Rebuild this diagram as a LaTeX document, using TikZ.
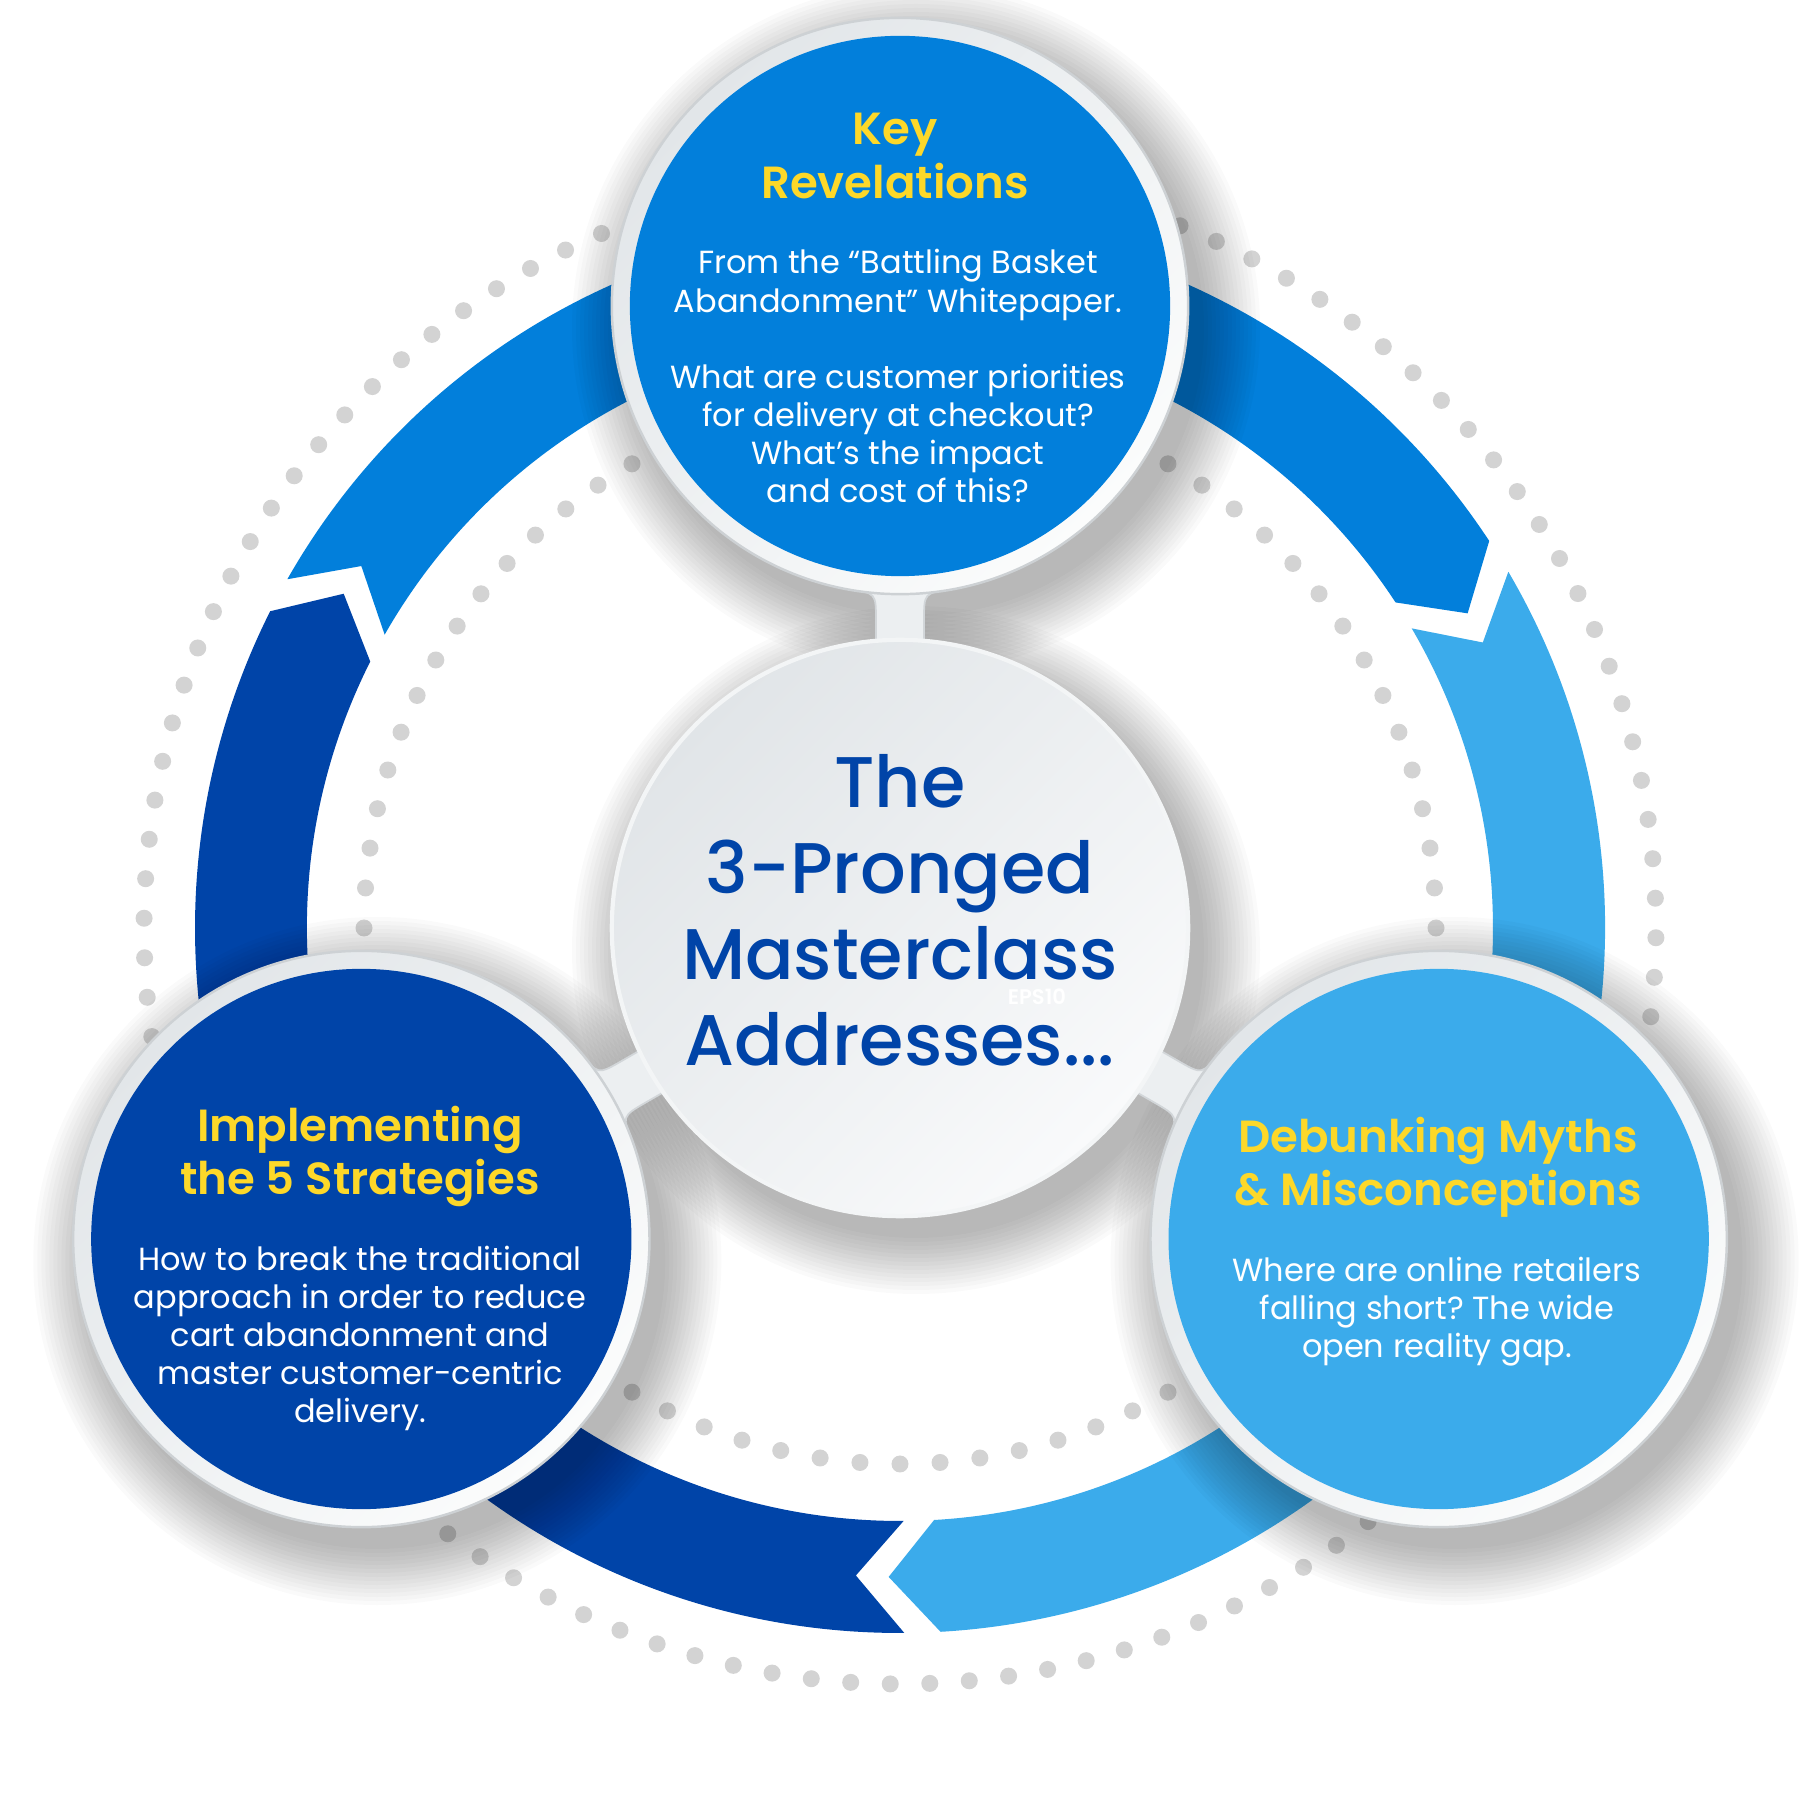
\documentclass[tikz,border=0pt]{standalone}
\usepackage{fontspec}
\setmainfont{Poppins}[BoldFont={Poppins SemiBold}]
\newfontfamily\titlefont{Poppins Medium}
\frenchspacing
\usetikzlibrary{calc}
\pgfdeclarelayer{bg}
\pgfsetlayers{bg,main}
\definecolor{darkblue}{HTML}{0044A8}
\definecolor{midblue}{HTML}{027FDB}
\definecolor{lightblue}{HTML}{3BABEB}
\definecolor{gold}{HTML}{FDD829}
\definecolor{dotgray}{HTML}{D3D3D3}
\definecolor{ringA}{HTML}{E2E6E9}
\definecolor{ringB}{HTML}{FBFCFC}
\definecolor{ringedge}{HTML}{CDD1D4}
\definecolor{hubA}{HTML}{E1E5E8}
\definecolor{hubB}{HTML}{F9FAFB}
\definecolor{hubrim}{HTML}{F3F5F6}
\definecolor{stemgray}{HTML}{ECEFF1}
\definecolor{stemedge}{HTML}{D2D6D9}
\newcommand\bandseg[3]{%
  \fill[#1] ({#2+1.35}:705) arc[start angle={#2+1.35}, end angle={#3+4.3}, radius=705]
    -- (#3:649) -- ({#3+4.3}:593) arc[start angle={#3+4.3}, end angle={#2+1.35}, radius=593]
    -- ({#2-2.9}:649) -- cycle;}
\newcommand\stemshape[2]{% #1 from node, #2 angle
  \begin{scope}[shift={(#1.center)}, rotate={#2-90}]
    \filldraw[fill=stemgray, draw=stemedge, line width=0.5pt]
      (-24,250) -- (-24,307) .. controls (-24,335.1) .. (-52,338.7) -- (-52,380)
      -- (52,380) -- (52,338.7) .. controls (24,335.1) .. (24,307) -- (24,250) -- cycle;
  \end{scope}}
\tikzset{
  ringnode/.style={circle, minimum size=5.76cm, inner sep=0pt, top color=ringA, bottom color=ringB, shading angle=45, draw=ringedge, line width=0.7pt},
  disc/.style={circle, minimum size=5.40cm, inner sep=0pt, fill=#1},
  hubnode/.style={circle, minimum size=5.76cm, inner sep=0pt, top color=hubA, bottom color=hubB, shading angle=45, draw=hubrim, line width=1.2pt},
  ttl/.style={anchor=base, inner sep=0pt, text=gold, font=\bfseries\fontsize{12.8}{15.2}\selectfont},
  bodytext/.style={anchor=base, inner sep=0pt, text=white, font=\fontsize{9.1}{10.85}\selectfont},
  dotc/.style={fill=dotgray},
  shad/.style={fill=black, opacity=0.018},
}
\begin{document}
\begin{tikzpicture}[x=0.01cm,y=0.01cm]
\useasboundingbox (-900,-872) rectangle (900,928);

% circles (main layer)
\node[hubnode] (hub) at (0,0) {};
\node[ringnode] (nTop) at (90:622) {};
\node[ringnode] (nLeft) at (210:622) {};
\node[ringnode] (nRight) at (330:622) {};
\node[disc=midblue] (dTop) at (nTop.center) {};
\node[disc=darkblue] (dLeft) at (nLeft.center) {};
\node[disc=lightblue] (dRight) at (nRight.center) {};

\begin{pgfonlayer}{bg}
  \fill[white] (-900,-872) rectangle (900,928);
  % dotted circles
  \foreach \k in {0,...,119} \fill[dotc] ({269.26+3*\k}:756) circle[radius=8.5];
  \foreach \k in {0,...,83} \fill[dotc] ({4.285714*\k}:536) circle[radius=8.5];
  % arrow bands
  \bandseg{darkblue}{269}{149}
  \bandseg{midblue}{149}{29}
  \bandseg{lightblue}{29}{-91}
  % soft shadows
  \foreach \n in {hub,nTop,nLeft,nRight}{
    \foreach \i in {1,...,15}
      \fill[shad] ([shift={(16,-22)}]\n.center) circle[radius={284+4*\i}];
  }
  % stems from the hub to the three outer circles
  \stemshape{hub}{90}
  \stemshape{hub}{210}
  \stemshape{hub}{330}
\end{pgfonlayer}

% texts
\node[anchor=base, inner sep=0pt, text=darkblue, font=\titlefont\fontsize{20.4}{24.5}\selectfont] (hubtitle) at (0,120.5)
  {\begin{tabular}[t]{@{}c@{}}The\\3-Pronged\\Masterclass\\Addresses...\end{tabular}};
\node[text=white, inner sep=0pt, font=\bfseries\fontsize{6}{7}\selectfont] (eps) at (137,-69) {EPS10};

\node[ttl] (tTop) at (-5,783) {\begin{tabular}[t]{@{}c@{}}Key\\Revelations\end{tabular}};
\node[bodytext] (bTop) at (-2,654) {\begin{tabular}[t]{@{}c@{}}From the “Battling Basket\\Abandonment” Whitepaper.\\ \\What are customer priorities\\for delivery at checkout?\\What’s the impact\\and cost of this?\end{tabular}};

\node[ttl] (tLeft) at (-540,-213) {\begin{tabular}[t]{@{}c@{}}Implementing\\the 5 Strategies\end{tabular}};
\node[bodytext] (bLeft) at (-540,-342) {\begin{tabular}[t]{@{}c@{}}How to break the traditional\\approach in order to reduce\\cart abandonment and\\master customer-centric\\delivery.\end{tabular}};

\node[ttl] (tRight) at (538,-224) {\begin{tabular}[t]{@{}c@{}}Debunking Myths\\\& Misconceptions\end{tabular}};
\node[bodytext] (bRight) at (537,-353) {\begin{tabular}[t]{@{}c@{}}Where are online retailers\\falling short? The wide\\open reality gap.\end{tabular}};
\end{tikzpicture}
\end{document}
